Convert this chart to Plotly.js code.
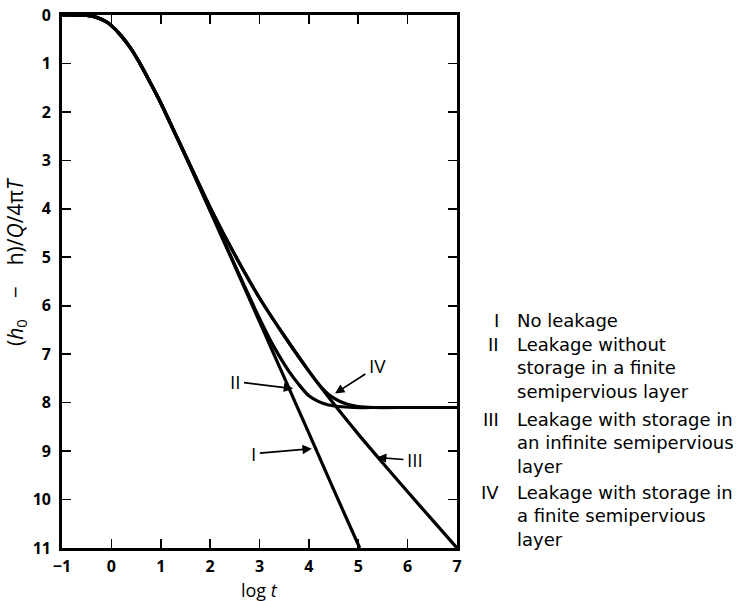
<!DOCTYPE html>
<html>
<head>
<meta charset="utf-8">
<script src="https://cdn.plot.ly/plotly-3.0.1.min.js"></script>
<style>html,body{margin:0;padding:0;background:#fff;}#chart{width:738px;height:601px;}</style>
</head>
<body>
<div id="chart"></div>
<script>
// ---- data ----
var xI   = [-1, -0.7, -0.5, -0.3, -0.1, 0, 0.2, 0.4, 0.6, 0.8, 1, 1.3, 1.6, 2, 2.5, 3, 3.5, 4, 4.5, 5.03];
var yI   = [0, 0.001, 0.01, 0.049, 0.144, 0.219, 0.43, 0.70, 1.04, 1.42, 1.82, 2.47, 3.13, 4.04, 5.18, 6.33, 7.48, 8.63, 9.79, 11.0];

var xII  = [-1, -0.7, -0.5, -0.3, -0.1, 0, 0.2, 0.4, 0.6, 0.8, 1, 1.3, 1.6, 2, 2.5, 3, 3.3, 3.6, 3.8, 4, 4.2, 4.4, 4.6, 4.9, 5.5, 7];
var yII  = [0, 0.001, 0.01, 0.049, 0.144, 0.219, 0.43, 0.70, 1.04, 1.42, 1.82, 2.47, 3.13, 4.03, 5.16, 6.26, 6.86, 7.36, 7.63, 7.86, 7.98, 8.05, 8.08, 8.1, 8.1, 8.1];

var xIII = [-1, -0.7, -0.5, -0.3, -0.1, 0, 0.2, 0.4, 0.6, 0.8, 1, 1.3, 1.6, 2, 2.5, 3, 3.5, 4, 4.5, 5, 5.5, 6, 6.5, 7];
var yIII = [0, 0.001, 0.01, 0.049, 0.144, 0.219, 0.43, 0.70, 1.04, 1.42, 1.81, 2.46, 3.11, 3.97, 4.95, 5.84, 6.62, 7.35, 8.02, 8.65, 9.25, 9.84, 10.42, 11.0];

var xIV  = [-1, -0.7, -0.5, -0.3, -0.1, 0, 0.2, 0.4, 0.6, 0.8, 1, 1.3, 1.6, 2, 2.5, 3, 3.5, 4, 4.2, 4.4, 4.6, 4.8, 5.0, 5.3, 6, 7];
var yIV  = [0, 0.001, 0.01, 0.049, 0.144, 0.219, 0.43, 0.70, 1.04, 1.42, 1.81, 2.46, 3.11, 3.97, 4.95, 5.84, 6.62, 7.35, 7.62, 7.83, 7.96, 8.04, 8.08, 8.1, 8.1, 8.1];

var xTicks = [-1, 0, 1, 2, 3, 4, 5, 6, 7];
var xTickText = ['\u22121', '0', '1', '2', '3', '4', '5', '6', '7'];
var yTicks = [0, 1, 2, 3, 4, 5, 6, 7, 8, 9, 10, 11];

var curveLabels = ['I', 'II', 'III', 'IV'];
// arrow heads (data coords) for curve labels
var labelHeadX = [4.06, 3.68, 5.38, 4.53];
var labelHeadY = [8.95, 7.71, 9.13, 7.81];

var legendNumerals = ['I', 'II', 'III', 'IV'];
var legendLines = [
  ['No leakage'],
  ['Leakage without', 'storage in a finite', 'semipervious layer'],
  ['Leakage with storage in', 'an infinite semipervious', 'layer'],
  ['Leakage with storage in', 'a finite semipervious', 'layer']
];

var xTitle = 'log <i>t</i>';
var yTitle = '(<i>h</i><sub>0</sub>\u2003\u2212\u2003h)/<i>Q</i>/4\u03c0<i>T</i>';

// ---- layout helpers (pixel -> paper) ----
var L = 62, R = 457, T = 15, B = 548;
function px(p){ return (p - L) / (R - L); }
function py(p){ return (B - p) / (B - T); }

var FONT = 'Open Sans, Lato, DejaVu Sans, sans-serif';
var LFONT = 'DejaVu Sans, Open Sans, sans-serif';
var lineStyle = {color: '#000', width: 3.2, shape: 'spline', smoothing: 0.7};

var traces = [
  {x: xI, y: yI, mode: 'lines', line: lineStyle, name: 'I', hoverinfo: 'skip'},
  {x: xII, y: yII, mode: 'lines', line: lineStyle, name: 'II', hoverinfo: 'skip'},
  {x: xIII, y: yIII, mode: 'lines', line: lineStyle, name: 'III', hoverinfo: 'skip'},
  {x: xIV, y: yIV, mode: 'lines', line: lineStyle, name: 'IV', hoverinfo: 'skip'}
];

var annotations = [];
// curve labels with arrows (text offsets in pixels)
var labelOffX = [-58, -58, 38, 42];
var labelOffY = [5, -7, 3, -27];
for (var i = 0; i < curveLabels.length; i++) {
  annotations.push({
    x: labelHeadX[i], y: labelHeadY[i], xref: 'x', yref: 'y',
    text: curveLabels[i], showarrow: true,
    ax: labelOffX[i], ay: labelOffY[i],
    arrowhead: 2, arrowsize: 1.1, arrowwidth: 1.7, arrowcolor: '#000',
    standoff: 0, startstandoff: 2,
    font: {family: FONT, size: 19, color: '#000'}
  });
}

// right-hand legend text (one block per group)
var groupStart = [321, 345, 420, 493];
var LSIZE = 18;
var lineH = LSIZE * 1.3;
for (var g = 0; g < legendNumerals.length; g++) {
  annotations.push({
    x: px(501), y: py(groupStart[g] - lineH / 2 - 1), xref: 'paper', yref: 'paper',
    xanchor: 'right', yanchor: 'top', showarrow: false,
    text: legendNumerals[g], font: {family: LFONT, size: LSIZE, color: '#000'}
  });
  annotations.push({
    x: px(515), y: py(groupStart[g] - lineH / 2 - 1), xref: 'paper', yref: 'paper',
    xanchor: 'left', yanchor: 'top', align: 'left', showarrow: false,
    text: legendLines[g].join('<br>'), font: {family: LFONT, size: LSIZE, color: '#000'}
  });
}

// axis titles
annotations.push({
  x: px(16), y: py(262), xref: 'paper', yref: 'paper', showarrow: false,
  textangle: -90, text: yTitle, xanchor: 'center', yanchor: 'middle',
  font: {family: FONT, size: 21, color: '#000'}
});
annotations.push({
  x: px(259), y: py(590), xref: 'paper', yref: 'paper', showarrow: false,
  text: xTitle, xanchor: 'center', yanchor: 'middle',
  font: {family: FONT, size: 18, color: '#000'}
});

var axisCommon = {
  showgrid: false, zeroline: false, showline: true, linecolor: '#000', linewidth: 2.8,
  mirror: 'ticks', ticks: 'inside', ticklen: 9, tickwidth: 1.6, tickcolor: '#000',
  tickfont: {family: FONT, size: 16, color: '#000', weight: 'bold'}
};

var layout = {
  width: 738, height: 601,
  margin: {l: L, r: 738 - R, t: T, b: 601 - B, pad: 0},
  paper_bgcolor: '#fff', plot_bgcolor: '#fff',
  showlegend: false,
  xaxis: Object.assign({}, axisCommon, {
    range: [-1, 7], tickmode: 'array', tickvals: xTicks, ticktext: xTickText,
    ticklabelstandoff: 2
  }),
  yaxis: Object.assign({}, axisCommon, {
    range: [11, 0], tickmode: 'array', tickvals: yTicks,
    ticklabelstandoff: 5
  }),
  annotations: annotations
};

Plotly.newPlot('chart', traces, layout, {staticPlot: true, displayModeBar: false});
</script>
</body>
</html>
